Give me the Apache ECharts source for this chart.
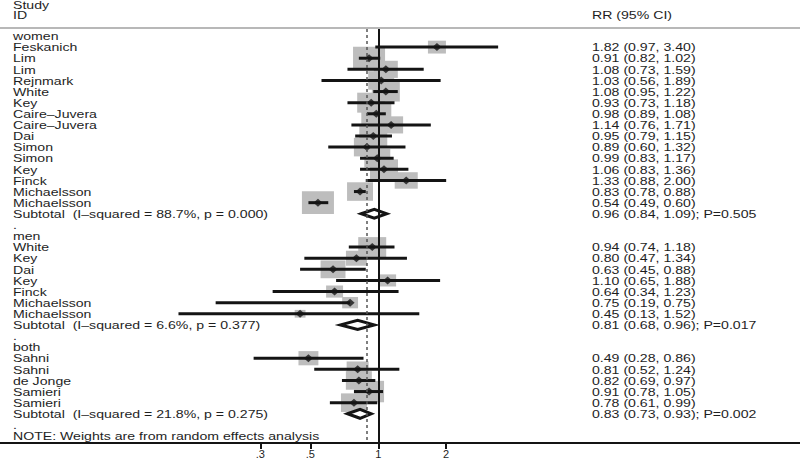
<!DOCTYPE html>
<html><head><meta charset="utf-8">
<script src="https://cdn.jsdelivr.net/npm/echarts@6/dist/echarts.min.js"></script>
<style>html,body{margin:0;padding:0;background:#fff}#c{width:800px;height:460px}</style>
</head><body><div id="c"></div>
<script>
// ---------- data ----------
const groupNames = ['women', 'men', 'both'];
const studyGroup = [0,0,0,0,0,0,0,0,0,0,0,0,0,0,0, 1,1,1,1,1,1,1, 2,2,2,2,2];
const studyName = ['Feskanich','Lim','Lim','Rejnmark','White','Key','Caire–Juvera','Caire–Juvera','Dai','Simon','Simon','Key','Finck','Michaelsson','Michaelsson',
  'White','Key','Dai','Key','Finck','Michaelsson','Michaelsson',
  'Sahni','Sahni','de Jonge','Samieri','Samieri'];
const studyRR   = [1.82,0.91,1.08,1.03,1.08,0.93,0.98,1.14,0.95,0.89,0.99,1.06,1.33,0.83,0.54, 0.94,0.80,0.63,1.10,0.64,0.75,0.45, 0.49,0.81,0.82,0.91,0.78];
const studyLow  = [0.97,0.82,0.73,0.56,0.95,0.73,0.89,0.76,0.79,0.60,0.83,0.83,0.88,0.78,0.49, 0.74,0.47,0.45,0.65,0.34,0.19,0.13, 0.28,0.52,0.69,0.78,0.61];
const studyHigh = [3.40,1.02,1.59,1.89,1.22,1.18,1.08,1.71,1.15,1.32,1.17,1.36,2.00,0.88,0.60, 1.18,1.34,0.88,1.88,1.23,0.75,1.52, 0.86,1.24,0.97,1.05,0.99];
// relative random-effects weights (box area proportional to weight)
const studyWeight = [36,114,64,75,87,87,100,64,87,75,75,87,59,75,114, 87,49,69,32,32,28,13, 44,54,75,100,75];
const subtotalRR   = [0.96, 0.81, 0.83];
const subtotalLow  = [0.84, 0.68, 0.73];
const subtotalHigh = [1.09, 0.96, 0.93];
const subtotalP    = ['0.505', '0.017', '0.002'];
const iSquared     = ['88.7%', '6.6%', '21.8%'];
const hetP         = ['0.000', '0.377', '0.275'];
const overallRR = 0.89;
const xTicks = [0.3, 0.5, 1, 2];
const xTickLabels = ['.3', '.5', '1', '2'];
const noteText = 'NOTE: Weights are from random effects analysis';

// ---------- build rows ----------
const f2 = v => v.toFixed(2);
const rows = [];
const studyRows = [], subRows = [];
groupNames.forEach((g, gi) => {
  rows.push({label: g, right: ''});
  studyName.forEach((n, i) => {
    if (studyGroup[i] !== gi) return;
    studyRows[i] = rows.length;
    rows.push({label: n, right: f2(studyRR[i]) + ' (' + f2(studyLow[i]) + ', ' + f2(studyHigh[i]) + ')'});
  });
  subRows[gi] = rows.length;
  rows.push({label: 'Subtotal\u00a0 (I–squared = ' + iSquared[gi] + ', p = ' + hetP[gi] + ')',
    right: f2(subtotalRR[gi]) + ' (' + f2(subtotalLow[gi]) + ', ' + f2(subtotalHigh[gi]) + '); P=' + subtotalP[gi]});
  rows.push({label: '.', right: ''});
});
rows.push({label: noteText, right: ''});

// ---------- styles ----------
const FF = '"Liberation Sans", Arial, Helvetica, sans-serif';
const FS = 10.5, SX = 1.345, TXT = '#1e1e1e';
const INK = '#141414', BOX = '#bdbdbd';
const TY = 0.8; // text baseline nudge

const chart = echarts.init(document.getElementById('c'), null, {renderer: 'svg'});
const option = {
  animation: false,
  backgroundColor: '#fff',
  grid: {left: 0, right: 0, top: 29, bottom: 17},
  xAxis: {
    type: 'log', logBase: 10, min: 0.02101, max: 74.16,
    axisLine: {onZero: false, lineStyle: {color: INK, width: 2}},
    axisTick: {customValues: xTicks, length: 6, lineStyle: {color: INK, width: 2}},
    axisLabel: {customValues: xTicks, margin: 5, fontSize: 11, color: TXT, fontFamily: FF,
      formatter: v => { const k = xTicks.findIndex(t => Math.abs(t - v) < 1e-6); return k >= 0 ? xTickLabels[k] : ''; }},
    splitLine: {show: false}, minorTick: {show: false}, minorSplitLine: {show: false}
  },
  yAxis: {type: 'value', inverse: true, min: -0.63, max: 36.63, show: false,
    axisLine: {onZero: false}, splitLine: {show: false}},
  graphic: [
    {type: 'line', shape: {x1: 0, y1: 28, x2: 800, y2: 28}, style: {stroke: '#b8b8b8', lineWidth: 2}, silent: true},
    {type: 'text', x: 13, y: 5.5, scaleX: SX, style: {text: 'Study', fontSize: FS, fontFamily: FF, fill: TXT, verticalAlign: 'middle'}},
    {type: 'text', x: 13, y: 15.5, scaleX: SX, style: {text: 'ID', fontSize: FS, fontFamily: FF, fill: TXT, verticalAlign: 'middle'}},
    {type: 'text', x: 592, y: 15.5, scaleX: SX, style: {text: 'RR (95% CI)', fontSize: FS, fontFamily: FF, fill: TXT, verticalAlign: 'middle'}}
  ],
  series: [
    { // weight boxes
      type: 'custom', z: 1, silent: true,
      data: studyRR.map((v, i) => [v, studyRows[i], studyWeight[i]]),
      renderItem: (params, api) => {
        const c = api.coord([api.value(0), api.value(1)]);
        const w = 3 * Math.sqrt(api.value(2)), h = w / 1.4;
        return {type: 'rect', shape: {x: c[0] - w / 2, y: c[1] - h / 2, width: w, height: h}, style: {fill: BOX}};
      }
    },
    { // confidence intervals
      type: 'custom', z: 2, silent: true,
      data: studyLow.map((v, i) => [v, studyHigh[i], studyRows[i]]),
      renderItem: (params, api) => {
        const a = api.coord([api.value(0), api.value(2)]);
        const b = api.coord([api.value(1), api.value(2)]);
        return {type: 'line', shape: {x1: a[0], y1: a[1], x2: b[0], y2: b[1]}, style: {stroke: INK, lineWidth: 3}};
      }
    },
    { // point estimates + reference lines
      type: 'scatter', z: 3, silent: true,
      symbol: 'diamond', symbolSize: [9, 8],
      itemStyle: {color: INK},
      data: studyRR.map((v, i) => [v, studyRows[i]]),
      markLine: {
        silent: true, symbol: ['none', 'none'], label: {show: false},
        data: [
          {xAxis: 1, lineStyle: {type: 'solid', width: 2, color: INK}},
          {xAxis: overallRR, lineStyle: {type: [3, 3], width: 1.5, color: '#555'}}
        ]
      }
    },
    { // subtotal diamonds
      type: 'custom', z: 4, silent: true,
      data: subtotalRR.map((v, i) => [v, subtotalLow[i], subtotalHigh[i], subRows[i]]),
      renderItem: (params, api) => {
        const r = api.value(3);
        const c = api.coord([api.value(0), r]);
        const l = api.coord([api.value(1), r]);
        const h = api.coord([api.value(2), r]);
        return {type: 'polygon', shape: {points: [[l[0], c[1]], [c[0], c[1] - 4.5], [h[0], c[1]], [c[0], c[1] + 4.5]]},
          style: {fill: '#fff', stroke: INK, lineWidth: 3, lineJoin: 'miter'}};
      }
    },
    { // text rows
      type: 'custom', z: 5, silent: true,
      data: rows.map((r, i) => [1, i]),
      renderItem: (params, api) => {
        const row = rows[params.dataIndex];
        const y = api.coord([1, api.value(1)])[1] + TY;
        const ch = [{type: 'text', x: 13, y: y, scaleX: SX,
          style: {text: row.label, fontSize: FS, fontFamily: FF, fill: TXT, verticalAlign: 'middle', align: 'left'}}];
        if (row.right) ch.push({type: 'text', x: 592, y: y, scaleX: SX,
          style: {text: row.right, fontSize: FS, fontFamily: FF, fill: TXT, verticalAlign: 'middle', align: 'left'}});
        return {type: 'group', children: ch};
      }
    }
  ]
};
chart.setOption(option);
</script>
</body></html>
